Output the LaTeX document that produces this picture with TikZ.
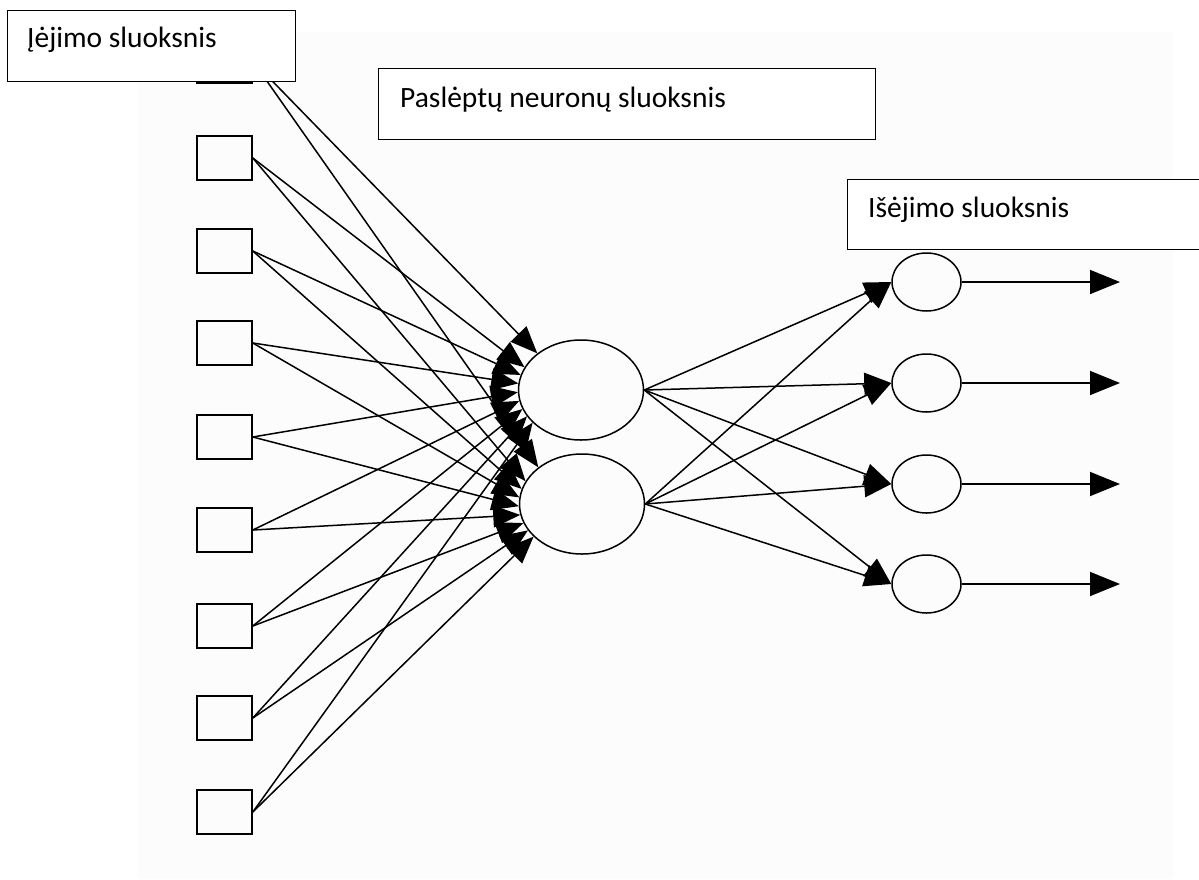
\documentclass[tikz,border=0pt]{standalone}
\usepackage{fontspec}
\setmainfont{Carlito}
\usetikzlibrary{arrows.meta,shapes.geometric}
\begin{document}
\begin{tikzpicture}[x=1pt,y=-1pt]
\tikzset{
  inp/.style={draw, line width=1.6pt, minimum width=55pt, minimum height=44pt, inner sep=0pt},
  hid/.style={ellipse, draw, line width=1.5pt, minimum width=125pt, minimum height=100pt, inner sep=0pt},
  outn/.style={ellipse, draw, line width=1.5pt, minimum width=69pt, minimum height=58pt, inner sep=0pt},
  conn/.style={line width=1.5pt, -{Triangle[length=27pt,width=22pt]}},
  outarr/.style={line width=1.6pt, -{Triangle[length=30pt,width=24pt]}},
  lblbox/.style={draw, fill=white, line width=1.4pt, anchor=north west, inner sep=0pt},
  lbltext/.style={anchor=base west, inner sep=0pt, font=\fontsize{29.5}{34}\selectfont},
}
\useasboundingbox (0,0) rectangle (1199,879);
\fill[gray!2] (138,32) rectangle (1173,879);

% input layer
\foreach \i/\y in {1/61,2/158,3/251,4/343,5/437,6/530,7/626,8/718,9/812}
  \node[inp] (i\i) at (224.5,\y) {};

% hidden layer
\node[hid] (h1) at (581,390) {};
\node[hid] (h2) at (582,504) {};

% output layer
\foreach \j/\y in {1/282,2/383,3/484,4/584} {
  \node[outn] (o\j) at (926.5,\y) {};
  \coordinate (e\j) at (1120,\y);
}

% input -> hidden
\foreach \i/\a in {1/140,2/158,3/166,4/174,5/182,6/190,7/198,8/206,9/214} {
  \draw[conn] (i\i.east) -- (h1.\a);
  \draw[conn] (i\i.east) -- (h2.\a);
}

% hidden -> output
\foreach \j in {1,...,4} {
  \draw[conn] (h1.east) -- (o\j.west);
  \draw[conn] (h2.east) -- (o\j.west);
  \draw[outarr] (o\j.east) -- (e\j);
}

% layer labels
\node[lblbox, minimum width=288pt, minimum height=71pt] (l1) at (7,10) {};
\node[lbltext] (t1) at (27,47) {Įėjimo sluoksnis};
\node[lblbox, minimum width=497pt, minimum height=71pt] (l2) at (378,68) {};
\node[lbltext] (t2) at (400,107) {Paslėptų neuronų sluoksnis};
\node[lblbox, minimum width=360pt, minimum height=70pt] (l3) at (847,179) {};
\node[lbltext] (t3) at (868,217) {Išėjimo sluoksnis};
\end{tikzpicture}
\end{document}
